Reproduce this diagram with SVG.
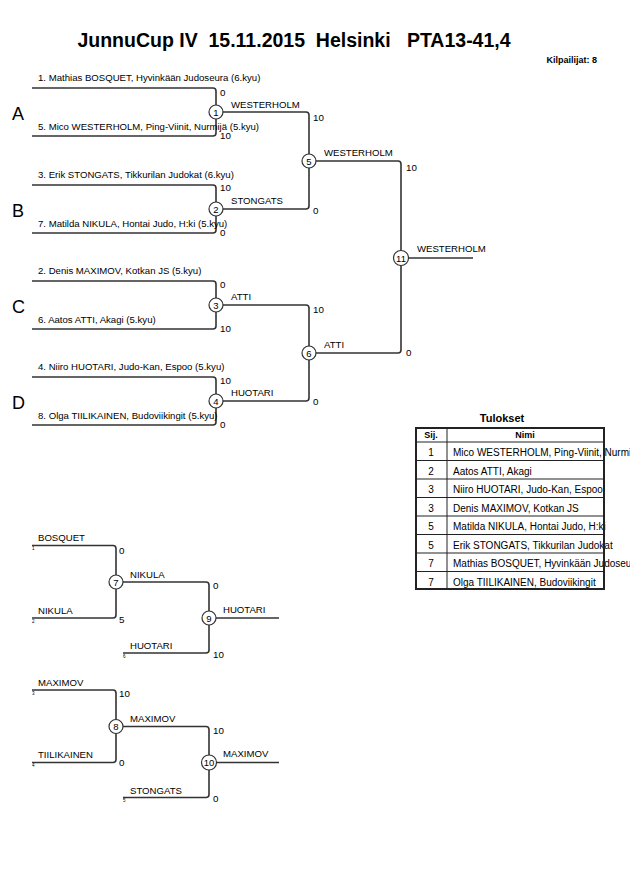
<svg xmlns="http://www.w3.org/2000/svg" width="630" height="891" viewBox="0 0 630 891">
<style>
text{font-family:"Liberation Sans",Arial,sans-serif;fill:#000}
.t{font-size:19.5px;font-weight:bold;white-space:pre}
.k{font-size:9px;font-weight:bold}
.p{font-size:9.6px}
.s{font-size:9.8px}
.n{font-size:9.5px;text-anchor:middle}
.g{font-size:18px}
.tiny{font-size:4.5px}
.ln{fill:none;stroke:#333;stroke-width:1.6}
.c{fill:#fff;stroke:#333;stroke-width:1.2}
.tb{fill:none;stroke:#222;stroke-width:1}
.tbo{fill:none;stroke:#222;stroke-width:2}
.h{font-size:9px;font-weight:bold;text-anchor:middle}
.r{font-size:10px}
.rn{font-size:10px;text-anchor:middle}
</style>
<rect width="630" height="891" fill="#fff"/>
<text class="t" x="294" y="47" text-anchor="middle">JunnuCup IV  15.11.2015  Helsinki   PTA13-41,4</text>
<text class="k" x="597" y="63" text-anchor="end">Kilpailijat: 8</text>

<g id="connectors">
<path class="ln" d="M32,88 H213 Q216,88 216,91 V133 Q216,136 213,136 H32"/>
<path class="ln" d="M32,185 H213 Q216,185 216,188 V230 Q216,233 213,233 H32"/>
<path class="ln" d="M32,281 H213 Q216,281 216,284 V326 Q216,329 213,329 H32"/>
<path class="ln" d="M32,377 H213 Q216,377 216,380 V422 Q216,425 213,425 H32"/>
<path class="ln" d="M216,112 H306 Q309,112 309,115 V206 Q309,209 306,209 H216"/>
<path class="ln" d="M216,305 H306 Q309,305 309,308 V398 Q309,401 306,401 H216"/>
<path class="ln" d="M309,161 H398 Q401,161 401,164 V350 Q401,353 398,353 H309"/>
<path class="ln" d="M401,258 H473"/>
<path class="ln" d="M32,545.5 H113 Q116,545.5 116,548.5 V615 Q116,618 113,618 H32"/>
<path class="ln" d="M116,582 H206 Q209,582 209,585 V650 Q209,653 206,653 H123"/>
<path class="ln" d="M209,618 H279"/>
<path class="ln" d="M32,690 H113 Q116,690 116,693 V759.5 Q116,762.5 113,762.5 H32"/>
<path class="ln" d="M116,726.5 H206 Q209,726.5 209,729.5 V794.5 Q209,797.5 206,797.5 H123"/>
<path class="ln" d="M209,762.5 H279"/>
</g>

<g id="pool-labels">
<text class="g" x="12" y="120">A</text>
<text class="g" x="12" y="217">B</text>
<text class="g" x="12" y="313">C</text>
<text class="g" x="12" y="409">D</text>
</g>

<g id="players">
<text class="p" x="38" y="81">1. Mathias BOSQUET, Hyvinkään Judoseura (6.kyu)</text>
<text class="p" x="38" y="130">5. Mico WESTERHOLM, Ping-Viinit, Nurmijä (5.kyu)</text>
<text class="p" x="38" y="178">3. Erik STONGATS, Tikkurilan Judokat (6.kyu)</text>
<text class="p" x="38" y="227">7. Matilda NIKULA, Hontai Judo, H:ki (5.kyu)</text>
<text class="p" x="38" y="274">2. Denis MAXIMOV, Kotkan JS (5.kyu)</text>
<text class="p" x="38" y="323">6. Aatos ATTI, Akagi (5.kyu)</text>
<text class="p" x="38" y="370">4. Niiro HUOTARI, Judo-Kan, Espoo (5.kyu)</text>
<text class="p" x="38" y="419">8. Olga TIILIKAINEN, Budoviikingit (5.kyu)</text>
</g>

<g id="match1"><circle class="c" cx="216" cy="112" r="7"/><text class="n" x="216" y="115.5">1</text>
<text class="s" x="220" y="96">0</text><text class="s" x="220" y="139">10</text>
<text class="p" x="231" y="108">WESTERHOLM</text></g>
<g id="match2"><circle class="c" cx="216" cy="209" r="7"/><text class="n" x="216" y="212.5">2</text>
<text class="s" x="220" y="191">10</text><text class="s" x="220" y="236">0</text>
<text class="p" x="231" y="204">STONGATS</text></g>
<g id="match3"><circle class="c" cx="216" cy="305" r="7"/><text class="n" x="216" y="308.5">3</text>
<text class="s" x="220" y="288">0</text><text class="s" x="220" y="332">10</text>
<text class="p" x="231" y="300">ATTI</text></g>
<g id="match4"><circle class="c" cx="216" cy="401" r="7"/><text class="n" x="216" y="404.5">4</text>
<text class="s" x="220" y="384">10</text><text class="s" x="220" y="428">0</text>
<text class="p" x="231" y="396">HUOTARI</text></g>
<g id="match5"><circle class="c" cx="309" cy="161" r="7"/><text class="n" x="309" y="164.5">5</text>
<text class="s" x="313" y="121">10</text><text class="s" x="313" y="214">0</text>
<text class="p" x="324" y="156">WESTERHOLM</text></g>
<g id="match6"><circle class="c" cx="309" cy="353" r="7"/><text class="n" x="309" y="356.5">6</text>
<text class="s" x="313" y="313">10</text><text class="s" x="313" y="405">0</text>
<text class="p" x="324" y="348">ATTI</text></g>
<g id="match11"><circle class="c" cx="401" cy="258" r="7.5"/><text class="n" x="401" y="261.5">11</text>
<text class="s" x="406" y="171">10</text><text class="s" x="406" y="356">0</text>
<text class="p" x="417" y="252">WESTERHOLM</text></g>

<g id="repechage1">
<text class="p" x="38" y="541">BOSQUET</text><text class="tiny" x="32" y="550">1</text>
<text class="p" x="38" y="614">NIKULA</text><text class="tiny" x="32" y="623">2</text>
<text class="p" x="130" y="649">HUOTARI</text><text class="tiny" x="123" y="658">6</text>
</g>
<g id="match7"><circle class="c" cx="116" cy="582" r="7"/><text class="n" x="116" y="585.5">7</text>
<text class="s" x="119" y="554">0</text><text class="s" x="119" y="623">5</text>
<text class="p" x="130" y="578">NIKULA</text></g>
<g id="match9"><circle class="c" cx="209" cy="618" r="7"/><text class="n" x="209" y="621.5">9</text>
<text class="s" x="213" y="589">0</text><text class="s" x="213" y="658">10</text>
<text class="p" x="223" y="613">HUOTARI</text></g>

<g id="repechage2">
<text class="p" x="38" y="686">MAXIMOV</text><text class="tiny" x="32" y="694.5">3</text>
<text class="p" x="38" y="758">TIILIKAINEN</text><text class="tiny" x="32" y="767">4</text>
<text class="p" x="130" y="794">STONGATS</text><text class="tiny" x="123" y="802">5</text>
</g>
<g id="match8"><circle class="c" cx="116" cy="726.5" r="7"/><text class="n" x="116" y="730">8</text>
<text class="s" x="119" y="697">10</text><text class="s" x="119" y="766">0</text>
<text class="p" x="130" y="722">MAXIMOV</text></g>
<g id="match10"><circle class="c" cx="209" cy="762.5" r="7.5"/><text class="n" x="209" y="766">10</text>
<text class="s" x="213" y="734">10</text><text class="s" x="213" y="802">0</text>
<text class="p" x="223" y="757">MAXIMOV</text></g>

<g id="results">
<text x="502" y="422" text-anchor="middle" style="font-size:11px;font-weight:bold">Tulokset</text>
<text class="h" x="431" y="438">Sij.</text>
<text class="h" x="525" y="438">Nimi</text>
<text class="rn" x="431" y="456">1</text><text class="r" x="453" y="456">Mico WESTERHOLM, Ping-Viinit, Nurmijä</text>
<text class="rn" x="431" y="474.5">2</text><text class="r" x="453" y="474.5">Aatos ATTI, Akagi</text>
<text class="rn" x="431" y="493">3</text><text class="r" x="453" y="493">Niiro HUOTARI, Judo-Kan, Espoo</text>
<text class="rn" x="431" y="511.5">3</text><text class="r" x="453" y="511.5">Denis MAXIMOV, Kotkan JS</text>
<text class="rn" x="431" y="530">5</text><text class="r" x="453" y="530">Matilda NIKULA, Hontai Judo, H:ki</text>
<text class="rn" x="431" y="548.5">5</text><text class="r" x="453" y="548.5">Erik STONGATS, Tikkurilan Judokat</text>
<text class="rn" x="431" y="567">7</text><text class="r" x="453" y="567">Mathias BOSQUET, Hyvinkään Judoseura</text>
<text class="rn" x="431" y="585.5">7</text><text class="r" x="453" y="585.5">Olga TIILIKAINEN, Budoviikingit</text>
<path class="tb" d="M416,442 H604 M416,460.5 H604 M416,479 H604 M416,497.5 H604 M416,516 H604 M416,534.5 H604 M416,553 H604 M416,571.5 H604 M447,428 V589"/>
<rect class="tbo" x="416" y="428" width="188" height="161"/>
</g>
</svg>
